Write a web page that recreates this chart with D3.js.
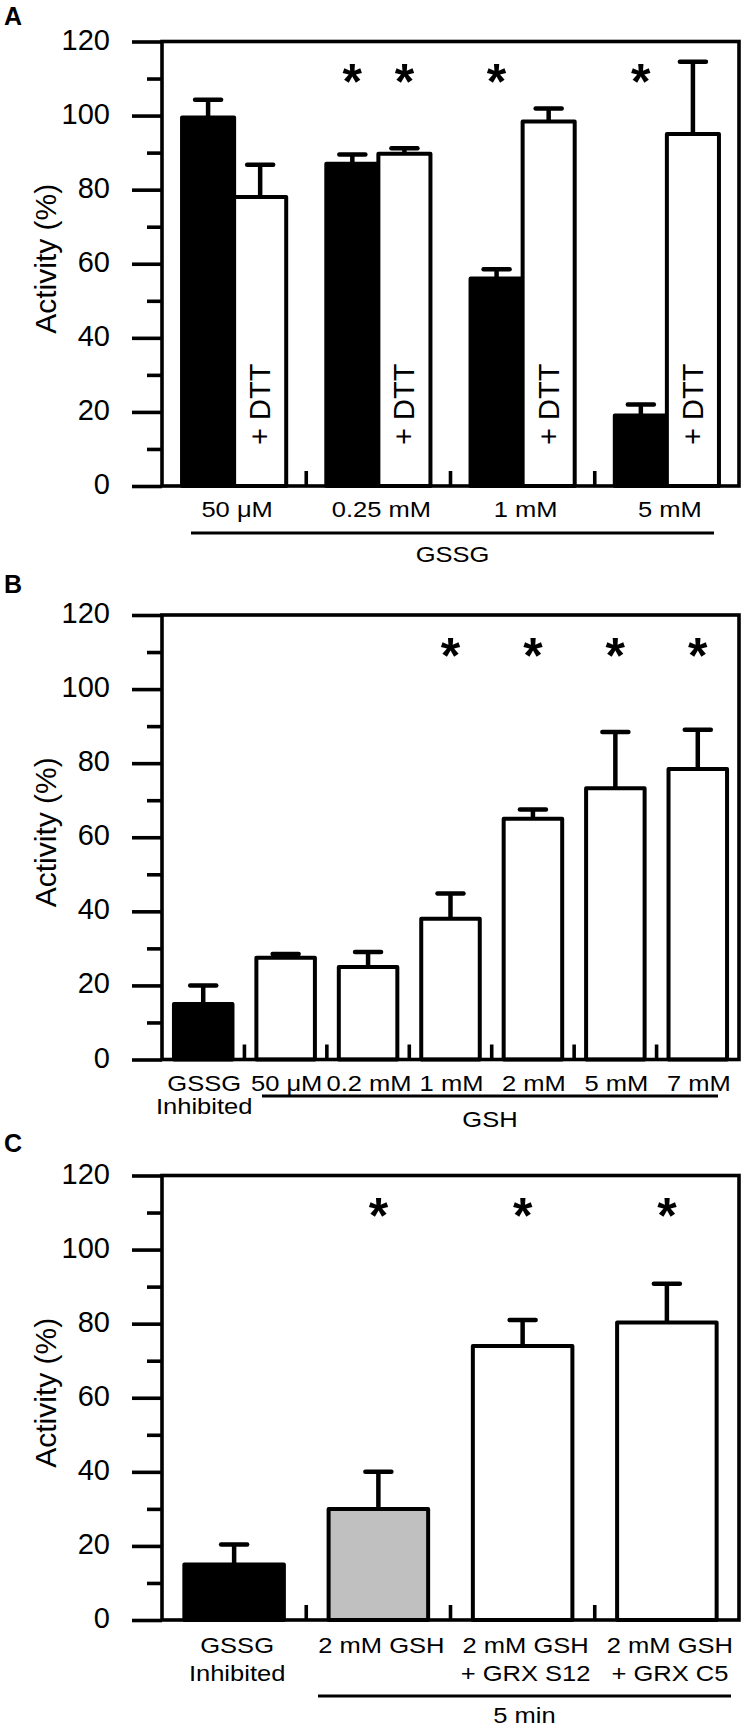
<!DOCTYPE html>
<html><head><meta charset="utf-8">
<script src="https://cdn.jsdelivr.net/npm/d3@7"></script>
<style>
body{margin:0;background:#fff}
svg{display:block}
text{font-family:"Liberation Sans",Arial,Helvetica,sans-serif;fill:#000}
</style>
</head><body>
<svg id="chart" width="747" height="1734"></svg>
<script>
// ---------------- DATA ----------------
const yTicks = [0, 20, 40, 60, 80, 100, 120];
const yMinorTicks = [10, 30, 50, 70, 90, 110];
const yLabel = "Activity (%)";

// Panel A
const aCategories = ["50 μM", "0.25 mM", "1 mM", "5 mM"];
const aSeries = ["GSSG", "+ DTT"];
const aGssg = [99.5, 87, 56, 19];
const aGssgErr = [4.8, 2.5, 2.5, 3];
const aDtt = [78, 89.7, 98.4, 95];
const aDttErr = [8.7, 1.5, 3.5, 19.5];
const aGssgSig = [false, true, true, true];
const aDttSig = [false, true, false, false];
const aGroupLabel = "GSSG";

// Panel B
const bCategories = ["GSSG|Inhibited", "50 μM", "0.2 mM", "1 mM", "2 mM", "5 mM", "7 mM"];
const bValues = [15, 27.5, 25, 38, 65, 73.2, 78.4];
const bErrors = [5, 1, 4, 6.8, 2.5, 15.2, 10.6];
const bSig = [false, false, false, true, true, true, true];
const bGroupLabel = "GSH";

// Panel C
const cCategories = ["GSSG|Inhibited", "2 mM GSH", "2 mM GSH|+ GRX S12", "2 mM GSH|+ GRX C5"];
const cValues = [15, 30, 74, 80.3];
const cErrors = [5.4, 10, 7, 10.5];
const cSig = [false, true, true, true];
const cGroupLabel = "5 min";

// ---------------- LAYOUT / STYLE ----------------
const svg = d3.select("#chart");
svg.append("rect").attr("width", 747).attr("height", 1734).attr("fill", "#fff");
const X0 = 162, X1 = 739;
const AX = 3.6, BAR_SW = 4, ERR_SW = 4.5, CAP_HALF = 13;
const SIG_VALUE = 112;
const LABEL_FS = 22, LABEL_SX = 1.16;

function hText(parent, x, y, str, fs, sx) {
  return parent.append("text")
    .attr("transform", `translate(${x},${y}) scale(${sx},1)`)
    .attr("text-anchor", "middle")
    .attr("font-size", fs)
    .text(str);
}

function frame(cfg) {
  const g = svg.append("g");
  const y = d3.scaleLinear().domain([0, 120]).range([cfg.bottom, cfg.top]);
  // panel letter
  g.append("text").attr("x", 4).attr("y", cfg.letterY)
    .attr("font-size", 25).attr("font-weight", "bold").text(cfg.letter);
  // y label
  g.append("text")
    .attr("transform", `translate(56,${(cfg.top + cfg.bottom) / 2 - 5}) rotate(-90)`)
    .attr("text-anchor", "middle").attr("font-size", 30).text(yLabel);
  return {g, y};
}

function axes(g, y, cfg) {
  const minor = g.append("g").attr("transform", `translate(${X0},0)`)
    .call(d3.axisLeft(y).tickValues(yMinorTicks).tickSize(15).tickFormat(""));
  minor.select(".domain").remove();
  minor.selectAll("line").attr("stroke", "#000").attr("stroke-width", AX);
  const major = g.append("g").attr("transform", `translate(${X0},0)`)
    .call(d3.axisLeft(y).tickValues(yTicks).tickSize(30).tickPadding(22));
  major.select(".domain").remove();
  major.selectAll("line").attr("stroke", "#000").attr("stroke-width", AX);
  major.selectAll("text").attr("font-size", 29)
    .attr("font-family", '"Liberation Sans",Arial,sans-serif').attr("fill", "#000")
    .attr("dy", "0.26em");
  g.append("rect").attr("x", X0).attr("y", cfg.top)
    .attr("width", X1 - X0).attr("height", cfg.bottom - cfg.top)
    .attr("fill", "none").attr("stroke", "#000").attr("stroke-width", AX);
}

function separators(g, y, positions) {
  g.selectAll(null).data(positions).enter().append("line")
    .attr("x1", d => d).attr("x2", d => d)
    .attr("y1", y(0)).attr("y2", y(0) - 15)
    .attr("stroke", "#000").attr("stroke-width", AX);
}

function bar(g, y, x, w, v, fill) {
  g.append("rect").attr("x", x).attr("y", y(v)).attr("width", w)
    .attr("height", y(0) - y(v)).attr("fill", fill)
    .attr("stroke", "#000").attr("stroke-width", BAR_SW).attr("stroke-linejoin", "round");
}

function errBar(g, y, cx, v, e) {
  g.append("line").attr("x1", cx).attr("x2", cx).attr("y1", y(v)).attr("y2", y(v + e))
    .attr("stroke", "#000").attr("stroke-width", ERR_SW);
  g.append("line").attr("x1", cx - CAP_HALF).attr("x2", cx + CAP_HALF)
    .attr("y1", y(v + e)).attr("y2", y(v + e))
    .attr("stroke", "#000").attr("stroke-width", ERR_SW).attr("stroke-linecap", "round");
}

function star(g, y, cx) {
  const fs = 50;
  g.append("text").attr("x", cx).attr("y", y(SIG_VALUE) + 0.56 * fs)
    .attr("text-anchor", "middle").attr("font-size", fs).attr("font-weight", "bold").text("*");
}

function catLabels(g, y, centers, cats, cfg) {
  cats.forEach((c, i) => {
    const lines = c.split("|");
    lines.forEach((ln, j) => {
      hText(g, centers[i] + cfg.labelDx, y(0) + cfg.labelOff + j * cfg.lineGap, ln, LABEL_FS, LABEL_SX);
    });
  });
}

function groupLine(g, cfg, label) {
  g.append("line").attr("x1", cfg.ul[0]).attr("x2", cfg.ul[1])
    .attr("y1", cfg.ulY).attr("y2", cfg.ulY)
    .attr("stroke", "#000").attr("stroke-width", 3);
  hText(g, (cfg.ul[0] + cfg.ul[1]) / 2, cfg.groupY, label, LABEL_FS, LABEL_SX);
}

// ---------------- PANEL A ----------------
(function () {
  const cfg = {letter: "A", letterY: 25, top: 41.5, bottom: 486, labelOff: 31, lineGap: 0, labelDx: 3,
               ul: [191, 714], ulY: 533, groupY: 562};
  const {g, y} = frame(cfg);
  const x = d3.scaleBand().domain(aCategories).range([X0, X1]).padding(0);
  const xi = d3.scaleBand().domain(aSeries).range([0, x.step()]).paddingInner(0).paddingOuter(0.385);
  aCategories.forEach((c, i) => {
    const xb = x(c) + xi(aSeries[0]), xw = x(c) + xi(aSeries[1]), w = xi.bandwidth();
    bar(g, y, xb, w, aGssg[i], "#000");
    bar(g, y, xw, w, aDtt[i], "#fff");
    errBar(g, y, xb + w / 2, aGssg[i], aGssgErr[i]);
    errBar(g, y, xw + w / 2, aDtt[i], aDttErr[i]);
    if (aGssgSig[i]) star(g, y, xb + w / 2);
    if (aDttSig[i]) star(g, y, xw + w / 2);
    const tx = xw + w / 2 + 10, ty = y(0) - 41;
    g.append("text").attr("transform", `translate(${tx},${ty}) rotate(-90)`)
      .attr("font-size", 29).attr("text-anchor", "start").text(aSeries[1]);
  });
  separators(g, y, aCategories.slice(1).map(c => x(c)));
  axes(g, y, cfg);
  catLabels(g, y, aCategories.map(c => x(c) + x.bandwidth() / 2), aCategories, cfg);
  groupLine(g, cfg, aGroupLabel);
})();

// ---------------- PANEL B ----------------
(function () {
  const cfg = {letter: "B", letterY: 593, top: 615, bottom: 1059.5, labelOff: 31, lineGap: 23, labelDx: 1,
               ul: [262, 718], ulY: 1096, groupY: 1127};
  const {g, y} = frame(cfg);
  const x = d3.scaleBand().domain(bCategories).range([X0, X1]).paddingInner(0.29).paddingOuter(0.145);
  const gap = (x.step() - x.bandwidth()) / 2;
  bCategories.forEach((c, i) => {
    bar(g, y, x(c), x.bandwidth(), bValues[i], i === 0 ? "#000" : "#fff");
    errBar(g, y, x(c) + x.bandwidth() / 2, bValues[i], bErrors[i]);
    if (bSig[i]) star(g, y, x(c) + x.bandwidth() / 2);
  });
  separators(g, y, bCategories.slice(1).map(c => x(c) - gap));
  axes(g, y, cfg);
  catLabels(g, y, bCategories.map(c => x(c) + x.bandwidth() / 2), bCategories, cfg);
  groupLine(g, cfg, bGroupLabel);
})();

// ---------------- PANEL C ----------------
(function () {
  const cfg = {letter: "C", letterY: 1152, top: 1175.5, bottom: 1620, labelOff: 33, lineGap: 28, labelDx: 3,
               ul: [318, 731], ulY: 1696, groupY: 1723};
  const {g, y} = frame(cfg);
  const x = d3.scaleBand().domain(cCategories).range([X0, X1]).paddingInner(0.31).paddingOuter(0.155);
  const fill = d3.scaleOrdinal().domain(cCategories).range(["#000", "#c0c0c0", "#fff", "#fff"]);
  const gap = (x.step() - x.bandwidth()) / 2;
  cCategories.forEach((c, i) => {
    bar(g, y, x(c), x.bandwidth(), cValues[i], fill(c));
    errBar(g, y, x(c) + x.bandwidth() / 2, cValues[i], cErrors[i]);
    if (cSig[i]) star(g, y, x(c) + x.bandwidth() / 2);
  });
  separators(g, y, cCategories.slice(1).map(c => x(c) - gap));
  axes(g, y, cfg);
  catLabels(g, y, cCategories.map(c => x(c) + x.bandwidth() / 2), cCategories, cfg);
  groupLine(g, cfg, cGroupLabel);
})();
</script>
</body></html>
